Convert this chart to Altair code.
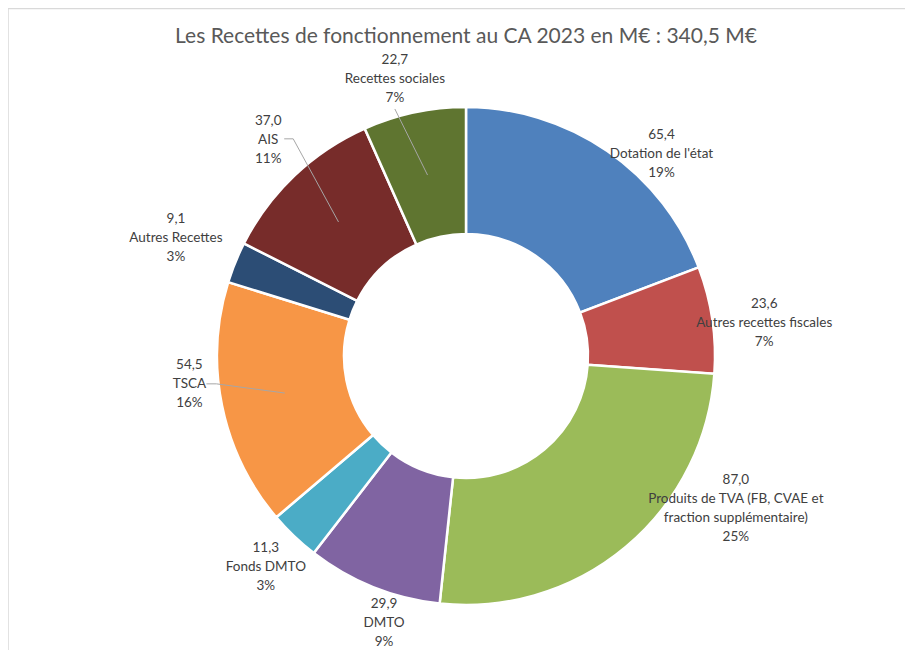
import altair as alt
import pandas as pd

title_text = "Les Recettes de fonctionnement au CA 2023 en M€ : 340,5 M€"
categories = [
    "Dotation de l'état",
    "Autres recettes fiscales",
    "Produits de TVA (FB, CVAE et\nfraction supplémentaire)",
    "DMTO",
    "Fonds DMTO",
    "TSCA",
    "Autres Recettes",
    "AIS",
    "Recettes sociales",
]
values = [65.4, 23.6, 87.0, 29.9, 11.3, 54.5, 9.1, 37.0, 22.7]
percents = [19, 7, 25, 9, 3, 16, 3, 11, 7]
colors = ["#4F81BD", "#C0504D", "#9BBB59", "#8064A2", "#4BACC6",
          "#F79646", "#2C4D75", "#772C2A", "#5F7530"]

# label placement (manually dragged labels in the original)
label_radius = [281, 300, 310, 279, 291, 278, 313, 293, 286]
label_shift = [9.5, 2.1, -20.6, -4.8, -0.2, 5.8, 0, 1.1, -2.4]
leader = [0, 0, 0, 0, 0, 1, 0, 1, 1]
leader_dx = [0, 0, 0, 0, 0, 17, 0, 16, 0]
leader_dy = [0, 0, 0, 0, 0, 0, 0, -1, 30]
leader_stub = [0, 0, 0, 0, 0, 10, 0, 9, 0]

W, H = 897, 642
CX, CY = 458, 348
R_OUT, R_IN, R_MID = 249, 122, 185
LINE_H = 19

labels = [f"{v:.1f}".replace(".", ",") + "\n" + n + "\n" + f"{p}%"
          for v, n, p in zip(values, categories, percents)]

df = pd.DataFrame({
    "order": list(range(len(values))),
    "name": categories,
    "value": values,
    "label": labels,
    "nl": [lab.count("\n") for lab in labels],
    "lr": label_radius,
    "shift": label_shift,
    "lead": leader,
    "ldx": leader_dx,
    "ldy": leader_dy,
    "stub": leader_stub,
})

base = alt.Chart(df).transform_window(
    cum="sum(value)", sort=[alt.SortField("order")], frame=[None, 0]
).transform_joinaggregate(
    total="sum(value)"
).transform_calculate(
    mid="(datum.cum - datum.value/2)/datum.total*2*PI"
).transform_calculate(
    a="datum.mid + datum.shift*PI/180"
).transform_calculate(
    cx_l=f"{CX} + datum.lr*sin(datum.a)",
    cy_l=f"{CY} - datum.lr*cos(datum.a)",
)

arcs = alt.Chart(df).mark_arc(
    outerRadius=R_OUT, innerRadius=R_IN, stroke="white", strokeWidth=2.5
).encode(
    theta=alt.Theta("value:Q", stack=True),
    order=alt.Order("order:Q"),
    color=alt.Color("name:N", scale=alt.Scale(domain=categories, range=colors), legend=None),
    x=alt.value(CX),
    y=alt.value(CY),
)

texts = base.transform_calculate(
    ly=f"datum.cy_l - datum.nl*{LINE_H}/2",
).mark_text(
    font="Lato", fontSize=13.5, color="#404040", lineBreak="\n", lineHeight=LINE_H,
    align="center", baseline="middle"
).encode(
    x=alt.X("cx_l:Q", scale=None, axis=None),
    y=alt.Y("ly:Q", scale=None, axis=None),
    text="label:N",
)

lead_base = base.transform_filter("datum.lead == 1").transform_calculate(
    sx="datum.cx_l + datum.ldx",
    sy="datum.cy_l + datum.ldy",
).transform_calculate(
    ex="datum.sx + datum.stub",
    rx=f"{CX} + {R_MID}*sin(datum.mid)",
    ry=f"{CY} - {R_MID}*cos(datum.mid)",
)

stubs = lead_base.mark_rule(color="#a6a6a6", strokeWidth=1).encode(
    x=alt.X("sx:Q", scale=None, axis=None),
    x2="ex:Q",
    y=alt.Y("sy:Q", scale=None, axis=None),
    y2="sy:Q",
)
diag = lead_base.mark_rule(color="#a6a6a6", strokeWidth=1).encode(
    x=alt.X("ex:Q", scale=None, axis=None),
    x2="rx:Q",
    y=alt.Y("sy:Q", scale=None, axis=None),
    y2="ry:Q",
)

title = alt.Chart(pd.DataFrame({"t": [title_text]})).mark_text(
    font="Lato", fontSize=21, color="#595959", align="center", baseline="middle"
).encode(x=alt.value(CX), y=alt.value(29), text="t:N")

one = pd.DataFrame({"a": [0]})
frame_left = alt.Chart(one).mark_rule(color="#d9d9d9", strokeWidth=1.5).encode(
    x=alt.value(0), y=alt.value(0), y2=alt.value(H)
)
frame_top = alt.Chart(one).mark_rule(color="#d9d9d9", strokeWidth=1.5).encode(
    y=alt.value(0.5), x=alt.value(0), x2=alt.value(W)
)

chart = alt.layer(frame_left, frame_top, arcs, stubs, diag, texts, title).properties(
    width=W, height=H, autosize="none", padding=0, background="white"
).configure_view(stroke=None)

chart.save("out.html", embed_options={"renderer": "svg", "actions": False})
